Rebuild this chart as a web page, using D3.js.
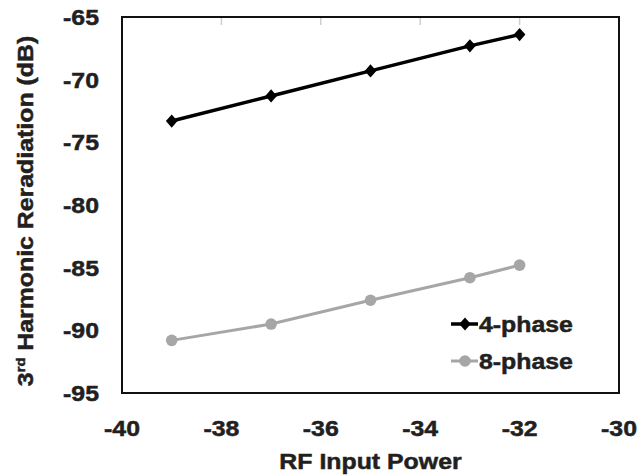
<title>3rd harmonic reradiation</title>
<script src="https://d3js.org/d3.v7.min.js"></script>
<style>
    body { margin: 0; background: #fff; }
    text { font-family: "Liberation Sans", Arial, sans-serif; font-weight: bold; fill: #231f20; stroke: #231f20; stroke-width: 0.5px; }
</style>
<body>
<script>
    // data
    let rfPower = [-39, -37, -35, -33, -32];
    let phase4 = [-73.3, -71.3, -69.3, -67.3, -66.4];
    let phase8 = [-90.8, -89.5, -87.6, -85.8, -84.8];
    let xTicks = [-40, -38, -36, -34, -32, -30];
    let yTicks = [-65, -70, -75, -80, -85, -90, -95];
    let seriesNames = ["4-phase", "8-phase"];

    let W = 641, H = 476;
    let plot = {left: 122, right: 619, top: 17, bottom: 393};
    let sx = 1.13; // text in the source is a bit wide
    let fs = 22;

    let x = d3.scaleLinear().domain([-40, -30]).range([plot.left, plot.right]);
    let y = d3.scaleLinear().domain([-95, -65]).range([plot.bottom, plot.top]);

    let svg = d3.select("body").append("svg").attr("width", W).attr("height", H);

    // wide text helper
    function wtext(g, tx, ty, str, size, anchor) {
        return g.append("text")
            .attr("transform", `translate(${tx},${ty}) scale(${sx},1)`)
            .attr("font-size", size)
            .attr("text-anchor", anchor)
            .text(str);
    }

    // faint tick stubs hanging from the top
    svg.append("g").selectAll("line").data(xTicks).join("line")
        .attr("x1", d => x(d)).attr("x2", d => x(d))
        .attr("y1", plot.top).attr("y2", plot.top + 8)
        .attr("stroke", "#cfcfcf").attr("stroke-width", 1.5);

    // frame
    svg.append("rect")
        .attr("x", plot.left).attr("y", plot.top)
        .attr("width", plot.right - plot.left).attr("height", plot.bottom - plot.top)
        .attr("fill", "none").attr("stroke", "#111").attr("stroke-width", 2);

    // tick labels
    let tl = svg.append("g");
    xTicks.forEach(t => wtext(tl, x(t), 436, t, fs, "middle"));
    yTicks.forEach(t => wtext(tl, 99, y(t) + 8, t, fs, "end"));

    // axis titles
    wtext(svg, (plot.left + plot.right) / 2, 469, "RF Input Power", fs, "middle");
    let yt = svg.append("text")
        .attr("transform", `translate(33,211) rotate(-90) scale(${sx},1)`)
        .attr("font-size", fs).attr("text-anchor", "middle");
    yt.append("tspan").text("3");
    yt.append("tspan").attr("font-size", 13).attr("dy", -8).text("rd");
    yt.append("tspan").attr("dy", 8).text(" Harmonic Reradiation (dB)");

    let diamond = {
        draw(ctx, size) {
            let w = 5.8, h = 6.6;
            ctx.moveTo(0, -h); ctx.lineTo(w, 0); ctx.lineTo(0, h); ctx.lineTo(-w, 0); ctx.closePath();
        }
    };

    let line = d3.line().x((d, i) => x(rfPower[i])).y(d => y(d));

    let series = [
        {name: seriesNames[0], values: phase4, color: "#000", width: 3.5, marker: "diamond"},
        {name: seriesNames[1], values: phase8, color: "#a6a6a6", width: 3, marker: "circle"}
    ];

    function drawMarker(g, cx, cy, s) {
        if (s.marker === "diamond") {
            g.append("path").attr("d", d3.symbol().type(diamond)())
                .attr("transform", `translate(${cx},${cy})`).attr("fill", s.color);
        } else {
            g.append("circle").attr("cx", cx).attr("cy", cy).attr("r", 5.8).attr("fill", s.color);
        }
    }

    series.forEach(s => {
        let g = svg.append("g");
        g.append("path").attr("d", line(s.values))
            .attr("fill", "none").attr("stroke", s.color).attr("stroke-width", s.width);
        s.values.forEach((v, i) => drawMarker(g, x(rfPower[i]), y(v), s));
    });

    // legend
    let lg = svg.append("g");
    series.forEach((s, i) => {
        let ly = 324 + i * 37;
        lg.append("line").attr("x1", 451).attr("x2", 478).attr("y1", ly).attr("y2", ly)
            .attr("stroke", s.color).attr("stroke-width", s.width);
        drawMarker(lg, 465, ly, s);
        wtext(lg, 479, ly + 8, s.name, fs, "start");
    });
</script>
</body>
